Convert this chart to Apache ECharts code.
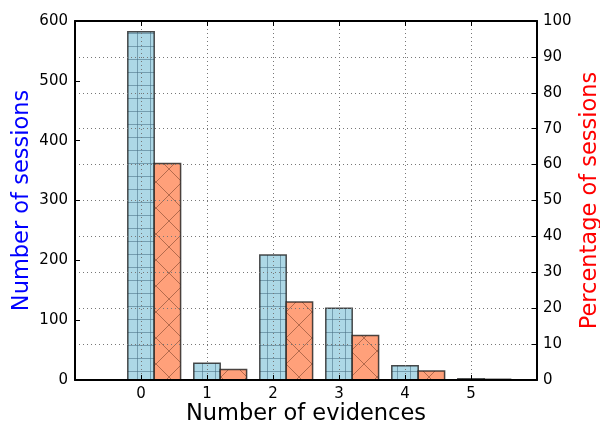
<!DOCTYPE html>
<html>
<head>
<meta charset="utf-8">
<script src="https://cdn.jsdelivr.net/npm/echarts@6/dist/echarts.min.js"></script>
<style>html,body{margin:0;padding:0;background:#fff;}#c{width:600px;height:424px;}</style>
</head>
<body>
<div id="c"></div>
<script>
var categories = [0, 1, 2, 3, 4, 5];
var sessionCounts = [582, 28, 209, 120, 24, 2];
var sessionPercent = [60.3, 2.9, 21.7, 12.4, 2.5, 0.2];

var FONT = 'DejaVu Sans';

function makePattern(size, bg, drawFn) {
  var c = document.createElement('canvas');
  c.width = size; c.height = size;
  var ctx = c.getContext('2d');
  ctx.fillStyle = bg; ctx.fillRect(0, 0, size, size);
  drawFn(ctx, size);
  return { image: c, repeat: 'repeat' };
}
var bluePattern = makePattern(13, '#ADD8E6', function (ctx, s) {
  ctx.strokeStyle = 'rgba(70,110,130,0.55)'; ctx.lineWidth = 1;
  ctx.beginPath();
  ctx.moveTo(7.5, 0); ctx.lineTo(7.5, s);
  ctx.moveTo(0, 7.5); ctx.lineTo(s, 7.5);
  ctx.stroke();
});
var orangePattern = makePattern(26, '#FFA07A', function (ctx, s) {
  ctx.strokeStyle = 'rgba(130,70,45,0.6)'; ctx.lineWidth = 1;
  ctx.beginPath();
  ctx.moveTo(0, 0); ctx.lineTo(s, s);
  ctx.moveTo(s, 0); ctx.lineTo(0, s);
  ctx.stroke();
});

function barRenderer(offset, fill) {
  return function (params, api) {
    var x = api.value(0), y = api.value(1);
    var pTop = api.coord([x + offset, y]);
    var pBot = api.coord([x + offset + 0.4, 0]);
    return {
      type: 'rect',
      shape: { x: pTop[0], y: pTop[1], width: pBot[0] - pTop[0], height: pBot[1] - pTop[1] },
      style: { fill: fill, stroke: 'rgba(30,30,30,0.8)', lineWidth: 1.5 }
    };
  };
}

var chart = echarts.init(document.getElementById('c'), null, { renderer: 'canvas' });
function axisLine() { return { show: true, onZero: false, lineStyle: { color: '#000', width: 2 } }; }
var tick = { show: true, inside: true, length: 5, lineStyle: { color: '#000', width: 1 } };
var dotted = { show: true, lineStyle: { color: '#777', width: 1, type: [1, 3] } };

chart.setOption({
  animation: false,
  backgroundColor: '#fff',
  textStyle: { fontFamily: FONT },
  grid: { left: 75, right: 63, top: 21, bottom: 44, containLabel: false, outerBoundsMode: 'none' },
  xAxis: [{
    type: 'value', min: -1, max: 6, interval: 1, position: 'bottom', z: 5,
    axisLine: axisLine(), axisTick: tick, splitLine: dotted,
    axisLabel: { color: '#000', fontSize: 15, fontFamily: FONT, margin: 7,
      formatter: function (v) { return categories.indexOf(v) >= 0 ? String(v) : ''; } },
    name: 'Number of evidences', nameLocation: 'middle', nameGap: 23, nameMoveOverlap: false,
    nameTextStyle: { color: '#000', fontSize: 22.5, fontFamily: FONT }
  }, {
    type: 'value', min: -1, max: 6, interval: 1, position: 'top', z: 5,
    axisLine: axisLine(), axisTick: tick, splitLine: { show: false }, axisLabel: { show: false }
  }],
  yAxis: [{
    type: 'value', min: 0, max: 600, interval: 100, position: 'left', z: 5,
    axisLine: axisLine(), axisTick: tick, splitLine: { show: false },
    axisLabel: { color: '#000', fontSize: 15, fontFamily: FONT, margin: 7 },
    name: 'Number of sessions', nameLocation: 'middle', nameGap: 41, nameMoveOverlap: false,
    nameTextStyle: { color: '#0000ff', fontSize: 22.5, fontFamily: FONT }
  }, {
    type: 'value', min: 0, max: 100, interval: 10, position: 'right', z: 5,
    axisLine: axisLine(), axisTick: tick, splitLine: dotted,
    axisLabel: { color: '#000', fontSize: 15, fontFamily: FONT, margin: 6 },
    name: 'Percentage of sessions', nameLocation: 'middle', nameGap: 42, nameMoveOverlap: false,
    nameTextStyle: { color: '#ff0000', fontSize: 22.5, fontFamily: FONT }
  }],
  series: [{
    type: 'custom', xAxisIndex: 0, yAxisIndex: 0, z: 2,
    renderItem: barRenderer(-0.2, bluePattern),
    data: categories.map(function (c, i) { return [c, sessionCounts[i]]; })
  }, {
    type: 'custom', xAxisIndex: 0, yAxisIndex: 1, z: 2,
    renderItem: barRenderer(0.2, orangePattern),
    data: categories.map(function (c, i) { return [c, sessionPercent[i]]; })
  }]
});
</script>
</body>
</html>
